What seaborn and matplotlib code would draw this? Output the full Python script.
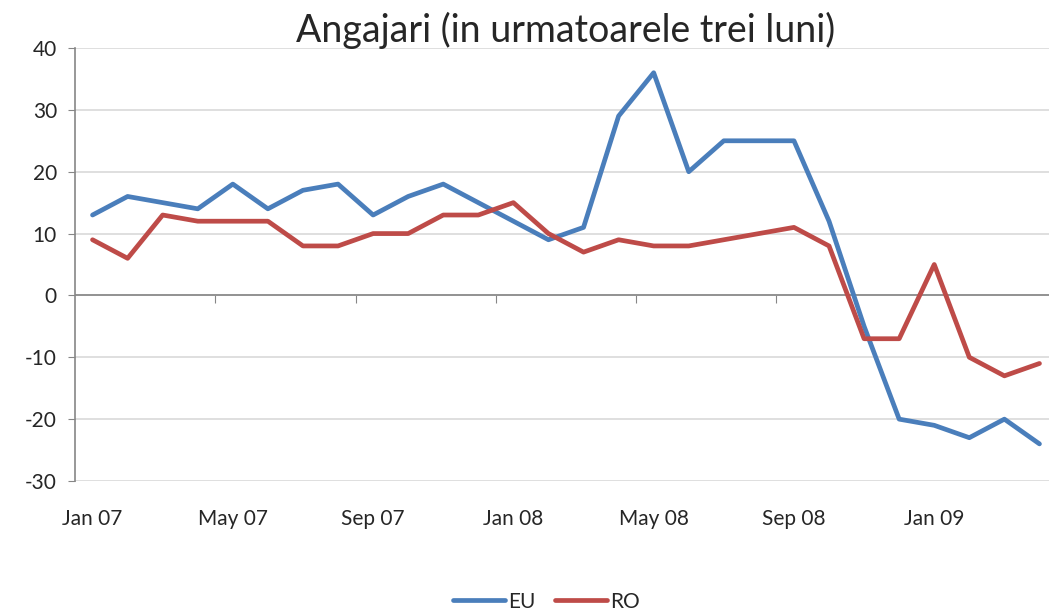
import numpy as np
import pandas as pd
import matplotlib
matplotlib.use("Agg")
import matplotlib.pyplot as plt
import seaborn as sns

# ==============================
# DATA
# ==============================

months = ["Jan 07", "Feb 07", "Mar 07", "Apr 07", "May 07", "Jun 07", "Jul 07",
          "Aug 07", "Sep 07", "Oct 07", "Nov 07", "Dec 07",
          "Jan 08", "Feb 08", "Mar 08", "Apr 08", "May 08", "Jun 08", "Jul 08",
          "Aug 08", "Sep 08", "Oct 08", "Nov 08", "Dec 08",
          "Jan 09", "Feb 09", "Mar 09", "Apr 09"]

eu = [13, 16, 15, 14, 18, 14, 17, 18, 13, 16, 18, 15,
      12, 9, 11, 29, 36, 20, 25, 25, 25, 12, -5, -20,
      -21, -23, -20, -24]

ro = [9, 6, 13, 12, 12, 12, 8, 8, 10, 10, 13, 13,
      15, 10, 7, 9, 8, 8, 9, 10, 11, 8, -7, -7,
      5, -10, -13, -11]

label_every = 4

# ==============================
# PLOT
# ==============================

df = pd.DataFrame({
    "idx": list(range(len(months))) * 2,
    "value": eu + ro,
    "series": ["EU"] * len(eu) + ["RO"] * len(ro),
})

sns.set_style("white")
plt.rcParams["font.family"] = ["Lato", "DejaVu Sans"]
plt.rcParams["axes.unicode_minus"] = False

fig = plt.figure(figsize=(10.49, 6.16), dpi=100)
ax = fig.add_axes([75 / 1049, 1 - 481 / 616, 982 / 1049, 433 / 616])

sns.lineplot(data=df, x="idx", y="value", hue="series",
             palette={"EU": "#4A7EBB", "RO": "#BE4B48"},
             linewidth=3.4, ax=ax, legend=True)

ax.set_xlim(-0.5, len(months) - 0.5)
ax.set_ylim(-30, 40)
ax.set_yticks(np.arange(-30, 41, 10))
ax.yaxis.grid(True, color="#d9d9d9", linewidth=1.2)
ax.set_axisbelow(True)
ax.axhline(0, color="#868686", linewidth=1.2, zorder=1)

pos = list(range(0, len(months), label_every))
ax.set_xticks(pos)
ax.set_xticklabels([months[i] for i in pos])
ax.tick_params(axis="x", length=0, pad=20, labelsize=15)
ax.tick_params(axis="y", length=5, color="#868686", direction="out",
               labelsize=15, pad=8, left=True)

for s in ["top", "right", "bottom"]:
    ax.spines[s].set_visible(False)
ax.spines["left"].set_color("#868686")
ax.spines["left"].set_linewidth(1.2)

# category boundary ticks on the zero line
sec = ax.secondary_xaxis(30 / 70)
sec.set_xticks([b - 0.5 for b in range(label_every, len(months), label_every)])
sec.tick_params(axis="x", length=6, color="#868686", labelbottom=False,
                direction="out")
sec.spines["bottom"].set_visible(False)

ax.set_xlabel("")
ax.set_ylabel("")
ax.set_title("Angajari (in urmatoarele trei luni)", fontsize=27, pad=4)

ax.legend(loc="lower center", bbox_to_anchor=(0.48, -0.345), ncol=2,
          frameon=False, fontsize=15, handlelength=2.5, columnspacing=0.9,
          handletextpad=0.15, title=None)

fig.savefig("out.png", dpi=100)
